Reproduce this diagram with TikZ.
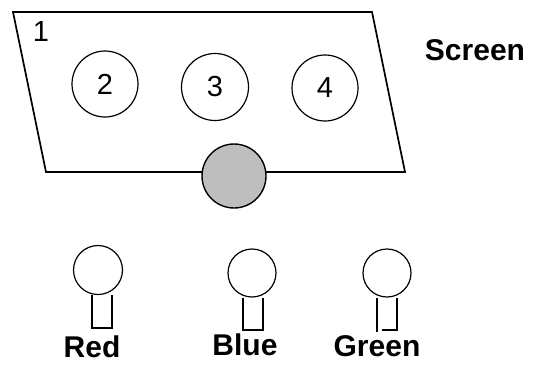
\documentclass[tikz,border=0pt]{standalone}
\usepackage{fontspec}
\setmainfont{Liberation Sans}
\definecolor{knobgray}{HTML}{BEBEBE}
\begin{document}
\begin{tikzpicture}[x=1pt,y=-1pt,
  frame/.style={line width=1.7pt,line join=miter},
  ring/.style={circle,draw,line width=1.2pt,inner sep=0pt,font=\fontsize{29}{29}\selectfont},
  knob/.style={circle,draw,line width=1.4pt,fill=knobgray,minimum size=64pt,inner sep=0pt},
  bulb/.style={circle,draw,line width=1.2pt,minimum size=48pt,inner sep=0pt},
  stemline/.style={line width=1.4pt},
  lbl/.style={inner sep=0pt,font=\bfseries\fontsize{30}{30}\selectfont},
  num/.style={inner sep=0pt,font=\fontsize{29}{29}\selectfont}]
\useasboundingbox (0,0) rectangle (545,364);
% screen frame
\coordinate (tl) at (13,12);
\coordinate (tr) at (372,12);
\coordinate (br) at (405,172);
\coordinate (bl) at (46,172);
\draw[frame] (tl) -- (tr) -- (br) -- (bl) -- cycle;
\node[num] (n1) at (41,32) {1};
\node[ring,minimum size=66pt] (c2) at (105,84) {2};
\node[ring,minimum size=67pt] (c3) at (215,87) {3};
\node[ring,minimum size=66pt] (c4) at (325,88) {4};
\node[knob] (knob) at (234,176) {};
\node[lbl] (screen) at (475,50) {Screen};
% bulbs
\node[bulb,minimum size=49pt] (rb) at (98,270) {};
\draw[stemline] (rb.south -| 92,0) -- (92,328) -- (112,328) -- (rb.south -| 112,0);
\node[bulb] (bb) at (252,273) {};
\draw[stemline] (bb.south -| 243,0) -- (243,330) -- (263,330) -- (bb.south -| 263,0);
\node[bulb] (gb) at (387,273) {};
\coordinate (gs1) at (377,332);
\coordinate (gs2) at (382,330);
\coordinate (gs3) at (397,330);
\draw[stemline] (gb.south -| gs1) -- (gs1);
\draw[stemline] (gs2) -- (gs3) -- (gb.south -| gs3);
\node[lbl] (red) at (92,347) {Red};
\node[lbl] (blue) at (245,345) {Blue};
\node[lbl] (green) at (377,346) {Green};
\end{tikzpicture}
\end{document}
